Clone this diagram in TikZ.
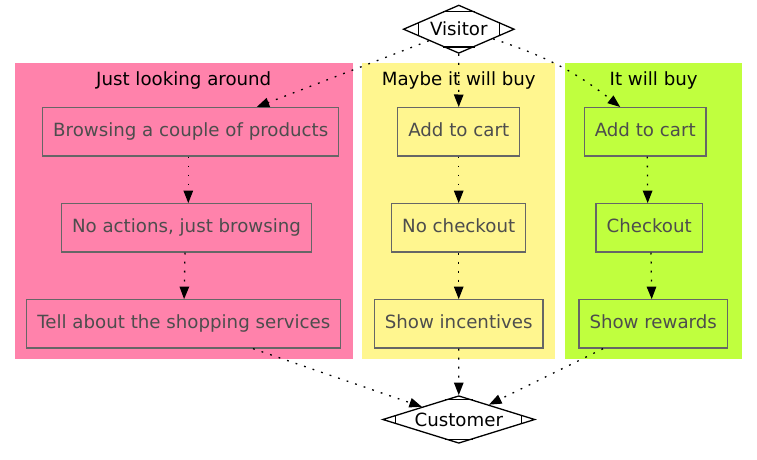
\documentclass[tikz,border=0pt]{standalone}
\usepackage{fontspec}
\setmainfont{DejaVu Sans}
\usetikzlibrary{shapes.geometric,arrows.meta,calc}
\definecolor{pinkc}{RGB}{255,130,171}
\definecolor{yellowc}{RGB}{255,246,143}
\definecolor{greenc}{RGB}{192,255,62}
\definecolor{boxline}{RGB}{102,102,102}
\definecolor{boxtext}{RGB}{77,77,77}
\begin{document}
\begin{tikzpicture}[x=1pt,y=-1pt,
  every node/.style={font=\fontsize{18.2}{22}\selectfont},
  stepbox/.style={rectangle, draw=boxline, text=boxtext, line width=1.3pt, inner xsep=10.5pt, inner ysep=0pt, text height=13.3pt, text depth=3.5pt, minimum height=48.3pt},
  mdia/.style={diamond, draw=black, line width=1.3pt, inner sep=0pt, text=black},
  flow/.style={draw=black, line width=1.3pt, dash pattern=on 1.8pt off 7.2pt, -{Triangle[length=12.5pt,width=9.5pt]}},
  clus/.style={anchor=base, text=black, inner sep=0pt},
  dmark/.style={draw=black, line width=1.3pt}
]
\useasboundingbox (0,0) rectangle (757,460);
% clusters
\fill[pinkc] (15,63) rectangle (352.5,359);
\fill[yellowc] (362,63) rectangle (555,359);
\fill[greenc] (564.5,63) rectangle (741.7,359);
\node[clus] (t1) at (183.7,85) {Just looking around};
\node[clus] (t2) at (458.8,85) {Maybe it will buy};
\node[clus] (t3) at (653.7,85) {It will buy};
% diamonds
\node[mdia, aspect=2.3, minimum width=111pt, minimum height=48.3pt] (v) at (458.8,29.2) {Visitor};
\node[mdia, aspect=3.2, minimum width=152.3pt, minimum height=47.6pt] (c) at (458.8,419.5) {Customer};
\foreach \n/\t in {v/0.28, c/0.18} {
  \draw[dmark] ($(\n.north)!\t!(\n.west)$) -- ($(\n.north)!\t!(\n.east)$);
  \draw[dmark] ($(\n.south)!\t!(\n.west)$) -- ($(\n.south)!\t!(\n.east)$);
  \draw[dmark] ($(\n.west)!\t!(\n.north)$) -- ($(\n.west)!\t!(\n.south)$);
  \draw[dmark] ($(\n.east)!\t!(\n.north)$) -- ($(\n.east)!\t!(\n.south)$);
}
% boxes
\node[stepbox] (b1) at (190.7,131.8) {Browsing a couple of products};
\node[stepbox] (b2) at (186.5,227.9) {No actions, just browsing};
\node[stepbox] (b3) at (183.8,323.9) {Tell about the shopping services};
\node[stepbox] (y1) at (458.7,131.8) {Add to cart};
\node[stepbox] (y2) at (458.7,227.9) {No checkout};
\node[stepbox] (y3) at (458.7,323.9) {Show incentives};
\node[stepbox] (g1) at (645.2,131.8) {Add to cart};
\node[stepbox] (g2) at (649.2,227.9) {Checkout};
\node[stepbox] (g3) at (653.2,323.9) {Show rewards};
% edges
\draw[flow] (v) -- ([xshift=66pt]b1.north);
\draw[flow] (v) -- (y1);
\draw[flow] (v) to[bend left=10] ([xshift=-25pt]g1.north);
\draw[flow] ([xshift=-2.4pt]b1.south) -- ([xshift=1.8pt]b2.north);
\draw[flow] ([xshift=-1.5pt]b2.south) -- ([xshift=0.3pt]b3.north);
\draw[flow] (y1) -- (y2);
\draw[flow] (y2) -- (y3);
\draw[flow] ([xshift=2.1pt]g1.south) -- ([xshift=-1.5pt]g2.north);
\draw[flow] ([xshift=1.8pt]g2.south) -- ([xshift=-1.5pt]g3.north);
\draw[flow] ([xshift=69.2pt]b3.south) -- (c);
\draw[flow] (y3) -- (c);
\draw[flow] ([xshift=-50.2pt]g3.south) -- (c);
\end{tikzpicture}
\end{document}
